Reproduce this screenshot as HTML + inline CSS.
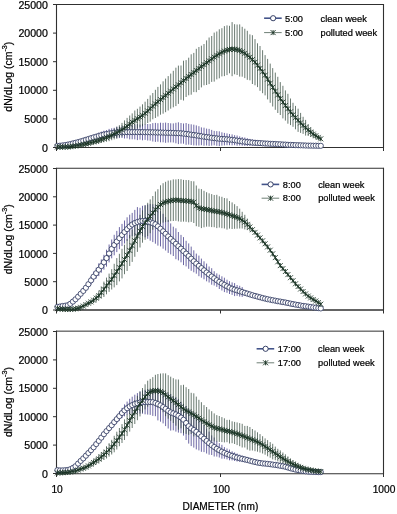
<!DOCTYPE html>
<html lang="en">
<head>
<meta charset="utf-8">
<title>Particle size distributions - clean week vs polluted week</title>
<style>
html,body{margin:0;padding:0;background:#fff;}
body{width:397px;height:514px;overflow:hidden;}
svg{display:block;will-change:transform;opacity:0.999;}
text{font-family:"Liberation Sans",Arial,Helvetica,sans-serif;fill:#000;stroke:#000;stroke-width:0.22px;}
.yt text{font-size:10.6px;text-anchor:end;}
.xt text{font-size:10.2px;text-anchor:middle;}
.xl{font-size:10.1px;text-anchor:middle;}
.yl{font-size:10.5px;text-anchor:middle;}
.lg text{font-size:9.25px;}
</style>
</head>
<body>
<svg width="397" height="514" viewBox="0 0 397 514">
<rect width="397" height="514" fill="#fff"/>
<g>
<path d="M56.5 4V148M383.5 4V148" stroke="#303030" stroke-width="1.1" fill="none"/>
<path d="M56.5 4.5H383.5" stroke="#303030" stroke-width="1" fill="none"/>
<path d="M56.5 147.5H383.5" stroke="#303030" stroke-width="1.15" fill="none"/>
<path d="M57.4 145V146.8M60 144.8V146.6M62.6 144.4V146.4M65.2 144V146.1M67.8 143.5V145.7M70.3 142.8V145.3M72.9 142.1V144.8M75.5 141.4V144.2M78.1 140.5V143.7M80.7 139.6V143.1M83.3 138.7V142.5M85.9 137.7V141.9M88.4 136.7V141.4M91 135.7V140.7M93.6 134.7V140.1M96.2 133.8V139.5M98.8 132.6V139.2M101.3 131.6V138.7M103.9 130.7V138.3M106.5 130.1V137.9M109.1 128.9V138.1M111.7 128.3V137.8M114.2 127.8V137.7M116.8 126.8V138.2M119.4 126.6V138.1M122 126.3V138M124.5 125.7V138.5M127.1 125.7V138.4M129.7 124.7V139.4M132.2 124.8V139.3M134.8 124.7V139.4M137.4 124.1V140.1M140 124.6V139.6M142.5 123.9V140.3M145.1 124.4V139.9M147.7 124V140.5M150.2 124V140.6M152.8 123.1V141.5M155.4 122.9V141.9M157.9 123.2V141.7M160.5 122.7V142.3M163.1 122.9V142.3M165.6 122.6V142.8M168.2 123V142.5M170.7 123.3V142.4M173.3 123.4V142.5M175.9 122.8V143.3M178.4 122.3V144.1M181 123V143.6M183.5 123.5V143.7M186.1 123V144.8M188.7 123.9V144.6M191.2 124.3V145M193.8 124.7V145.4M196.3 125.4V145.5M198.9 126.2V145.5M201.4 127.4V145.2M204 127.7V145.7M206.6 128.6V145.5M209.1 128.9V145.9M211.7 129.9V145.6M214.2 130.9V145.3M216.8 131.1V145.8M219.3 131.3V146.1M221.9 132.3V145.6M224.4 132.9V145.4M227 133.4V145.2M229.5 134V145.2M232.1 134.4V145.3M234.6 135.2V145.2M237.1 135.5V145.7M239.7 136.4V145.5M242.2 137V145.7M244.8 137.5V145.9M247.3 138.2V146M249.9 138.9V145.8M252.4 139.4V145.7M255 139.9V145.7M257.5 140.4V145.5M260 141V145.3M262.6 141.3V145.3M265.1 141.7V145.2M267.6 142.1V145.1M270.2 142.6V144.9M272.7 142.9V144.9M275.3 143.3V144.8M277.8 143.6V144.8M280.3 143.7V144.9M282.9 143.9V145M285.4 144.1V145.1M287.9 144.3V145.2M290.5 144.4V145.3M293 144.6V145.4" stroke="#332d80" stroke-width="0.72" fill="none" opacity="1"/>
<path d="M65.2 146.6V147.5M67.8 146.4V147.5M70.3 146V147.4M72.9 145.5V147.2M75.5 145.1V146.9M78.1 144.5V146.6M80.7 143.8V146.3M83.3 143.1V145.8M85.9 142.2V145.6M88.4 141.4V145.1M91 140.5V144.7M93.6 139.5V144.3M96.2 138.5V143.8M98.8 137.3V143.5M101.3 136.2V142.9M103.9 134.8V142.3M106.5 133.5V141.7M109.1 131.7V141.2M111.7 130.4V140.2M114.2 128.6V139.4M116.8 126.7V138.7M119.4 125.2V137.3M122 122.9V136.5M124.5 120.4V135.6M127.1 117.9V134.5M129.7 115.5V132.6M132.2 113.4V131M134.8 110.5V130.3M137.4 108.8V128.6M140 106.6V127.5M142.5 104.3V126.4M145.1 101.7V124.8M147.7 98.9V123M150.2 95.4V121.7M152.8 93V119.3M155.4 89.8V118M157.9 86.9V116.5M160.5 84.4V114.7M163.1 81.3V113.7M165.6 78.6V112.2M168.2 76.1V110.5M170.7 73.6V108.7M173.3 70.8V107.3M175.9 67.7V106.1M178.4 65.6V103.9M181 65.5V99.8M183.5 60.7V100.5M186.1 60.1V97M188.7 57.7V95.3M191.2 54.3V94.7M193.8 52.9V92.1M196.3 48.8V92.2M198.9 47V90M201.4 45.7V87.4M204 44V85.3M206.6 40.4V85M209.1 37.5V84.1M211.7 36V81.9M214.2 32.6V81.6M216.8 31.5V79.4M219.3 29.3V78.3M221.9 28.2V76.4M224.4 26.1V76.1M227 25.4V75.1M229.5 25.8V73.3M232.1 22.1V76.2M234.6 24.2V74.3M237.1 24.5V75M239.7 24.4V76.6M242.2 26.8V76.7M244.8 28.7V78.1M247.3 30.8V79.8M249.9 34.4V80.3M252.4 35.2V84M255 39.1V85.3M257.5 43.3V87.1M260 46V90.8M262.6 50.2V93.2M265.1 55.1V95.4M267.6 58.9V99.4M270.2 63.6V102.8M272.7 68.1V106.5M275.3 72.6V109.8M277.8 76.8V113M280.3 82.1V115M282.9 85.8V118.4M285.4 90.4V120.6M287.9 93.8V123.7M290.5 98.5V125.1M293 102.8V126.8M295.5 105.9V129.3M298.1 108.7V131.9M300.6 112.9V132.9M303.1 116.8V133.9M305.6 119.9V135.6M308.2 124V136M310.7 127.3V137M313.2 130.1V138M315.8 132.8V138.9M318.3 135.1V139.7M320.8 137.1V140.5" stroke="#2a4034" stroke-width="0.7" fill="none" opacity="1"/>
<polyline points="57.4,145.9 60,145.7 62.6,145.4 65.2,145.1 67.8,144.6 70.3,144.1 72.9,143.4 75.5,142.8 78.1,142.1 80.7,141.4 83.3,140.6 85.9,139.8 88.4,139 91,138.2 93.6,137.4 96.2,136.7 98.8,135.9 101.3,135.2 103.9,134.5 106.5,134 109.1,133.5 111.7,133.1 114.2,132.7 116.8,132.5 119.4,132.3 122,132.2 124.5,132.1 127.1,132.1 129.7,132.1 132.2,132.1 134.8,132.1 137.4,132.1 140,132.1 142.5,132.1 145.1,132.2 147.7,132.2 150.2,132.3 152.8,132.3 155.4,132.4 157.9,132.5 160.5,132.5 163.1,132.6 165.6,132.7 168.2,132.8 170.7,132.8 173.3,132.9 175.9,133.1 178.4,133.2 181,133.3 183.5,133.6 186.1,133.9 188.7,134.3 191.2,134.7 193.8,135 196.3,135.4 198.9,135.8 201.4,136.3 204,136.7 206.6,137.1 209.1,137.4 211.7,137.8 214.2,138.1 216.8,138.4 219.3,138.7 221.9,138.9 224.4,139.1 227,139.3 229.5,139.6 232.1,139.8 234.6,140.2 237.1,140.6 239.7,141 242.2,141.4 244.8,141.7 247.3,142.1 249.9,142.3 252.4,142.6 255,142.8 257.5,143 260,143.1 262.6,143.3 265.1,143.5 267.6,143.6 270.2,143.8 272.7,143.9 275.3,144 277.8,144.2 280.3,144.3 282.9,144.5 285.4,144.6 287.9,144.8 290.5,144.9 293,145 295.5,145.1 298.1,145.2 300.6,145.3 303.1,145.4 305.6,145.5 308.2,145.6 310.7,145.6 313.2,145.7 315.8,145.7 318.3,145.8 320.8,145.8" fill="none" stroke="#242f58" stroke-width="1.1" stroke-linejoin="round"/>
<g fill="#fff" stroke="#242f58" stroke-width="0.8">
<circle cx="57.4" cy="145.9" r="2.6"/>
<circle cx="60" cy="145.7" r="2.6"/>
<circle cx="62.6" cy="145.4" r="2.6"/>
<circle cx="65.2" cy="145.1" r="2.6"/>
<circle cx="67.8" cy="144.6" r="2.6"/>
<circle cx="70.3" cy="144.1" r="2.6"/>
<circle cx="72.9" cy="143.4" r="2.6"/>
<circle cx="75.5" cy="142.8" r="2.6"/>
<circle cx="78.1" cy="142.1" r="2.6"/>
<circle cx="80.7" cy="141.4" r="2.6"/>
<circle cx="83.3" cy="140.6" r="2.6"/>
<circle cx="85.9" cy="139.8" r="2.6"/>
<circle cx="88.4" cy="139" r="2.6"/>
<circle cx="91" cy="138.2" r="2.6"/>
<circle cx="93.6" cy="137.4" r="2.6"/>
<circle cx="96.2" cy="136.7" r="2.6"/>
<circle cx="98.8" cy="135.9" r="2.6"/>
<circle cx="101.3" cy="135.2" r="2.6"/>
<circle cx="103.9" cy="134.5" r="2.6"/>
<circle cx="106.5" cy="134" r="2.6"/>
<circle cx="109.1" cy="133.5" r="2.6"/>
<circle cx="111.7" cy="133.1" r="2.6"/>
<circle cx="114.2" cy="132.7" r="2.6"/>
<circle cx="116.8" cy="132.5" r="2.6"/>
<circle cx="119.4" cy="132.3" r="2.6"/>
<circle cx="122" cy="132.2" r="2.6"/>
<circle cx="124.5" cy="132.1" r="2.6"/>
<circle cx="127.1" cy="132.1" r="2.6"/>
<circle cx="129.7" cy="132.1" r="2.6"/>
<circle cx="132.2" cy="132.1" r="2.6"/>
<circle cx="134.8" cy="132.1" r="2.6"/>
<circle cx="137.4" cy="132.1" r="2.6"/>
<circle cx="140" cy="132.1" r="2.6"/>
<circle cx="142.5" cy="132.1" r="2.6"/>
<circle cx="145.1" cy="132.2" r="2.6"/>
<circle cx="147.7" cy="132.2" r="2.6"/>
<circle cx="150.2" cy="132.3" r="2.6"/>
<circle cx="152.8" cy="132.3" r="2.6"/>
<circle cx="155.4" cy="132.4" r="2.6"/>
<circle cx="157.9" cy="132.5" r="2.6"/>
<circle cx="160.5" cy="132.5" r="2.6"/>
<circle cx="163.1" cy="132.6" r="2.6"/>
<circle cx="165.6" cy="132.7" r="2.6"/>
<circle cx="168.2" cy="132.8" r="2.6"/>
<circle cx="170.7" cy="132.8" r="2.6"/>
<circle cx="173.3" cy="132.9" r="2.6"/>
<circle cx="175.9" cy="133.1" r="2.6"/>
<circle cx="178.4" cy="133.2" r="2.6"/>
<circle cx="181" cy="133.3" r="2.6"/>
<circle cx="183.5" cy="133.6" r="2.6"/>
<circle cx="186.1" cy="133.9" r="2.6"/>
<circle cx="188.7" cy="134.3" r="2.6"/>
<circle cx="191.2" cy="134.7" r="2.6"/>
<circle cx="193.8" cy="135" r="2.6"/>
<circle cx="196.3" cy="135.4" r="2.6"/>
<circle cx="198.9" cy="135.8" r="2.6"/>
<circle cx="201.4" cy="136.3" r="2.6"/>
<circle cx="204" cy="136.7" r="2.6"/>
<circle cx="206.6" cy="137.1" r="2.6"/>
<circle cx="209.1" cy="137.4" r="2.6"/>
<circle cx="211.7" cy="137.8" r="2.6"/>
<circle cx="214.2" cy="138.1" r="2.6"/>
<circle cx="216.8" cy="138.4" r="2.6"/>
<circle cx="219.3" cy="138.7" r="2.6"/>
<circle cx="221.9" cy="138.9" r="2.6"/>
<circle cx="224.4" cy="139.1" r="2.6"/>
<circle cx="227" cy="139.3" r="2.6"/>
<circle cx="229.5" cy="139.6" r="2.6"/>
<circle cx="232.1" cy="139.8" r="2.6"/>
<circle cx="234.6" cy="140.2" r="2.6"/>
<circle cx="237.1" cy="140.6" r="2.6"/>
<circle cx="239.7" cy="141" r="2.6"/>
<circle cx="242.2" cy="141.4" r="2.6"/>
<circle cx="244.8" cy="141.7" r="2.6"/>
<circle cx="247.3" cy="142.1" r="2.6"/>
<circle cx="249.9" cy="142.3" r="2.6"/>
<circle cx="252.4" cy="142.6" r="2.6"/>
<circle cx="255" cy="142.8" r="2.6"/>
<circle cx="257.5" cy="143" r="2.6"/>
<circle cx="260" cy="143.1" r="2.6"/>
<circle cx="262.6" cy="143.3" r="2.6"/>
<circle cx="265.1" cy="143.5" r="2.6"/>
<circle cx="267.6" cy="143.6" r="2.6"/>
<circle cx="270.2" cy="143.8" r="2.6"/>
<circle cx="272.7" cy="143.9" r="2.6"/>
<circle cx="275.3" cy="144" r="2.6"/>
<circle cx="277.8" cy="144.2" r="2.6"/>
<circle cx="280.3" cy="144.3" r="2.6"/>
<circle cx="282.9" cy="144.5" r="2.6"/>
<circle cx="285.4" cy="144.6" r="2.6"/>
<circle cx="287.9" cy="144.8" r="2.6"/>
<circle cx="290.5" cy="144.9" r="2.6"/>
<circle cx="293" cy="145" r="2.6"/>
<circle cx="295.5" cy="145.1" r="2.6"/>
<circle cx="298.1" cy="145.2" r="2.6"/>
<circle cx="300.6" cy="145.3" r="2.6"/>
<circle cx="303.1" cy="145.4" r="2.6"/>
<circle cx="305.6" cy="145.5" r="2.6"/>
<circle cx="308.2" cy="145.6" r="2.6"/>
<circle cx="310.7" cy="145.6" r="2.6"/>
<circle cx="313.2" cy="145.7" r="2.6"/>
<circle cx="315.8" cy="145.7" r="2.6"/>
<circle cx="318.3" cy="145.8" r="2.6"/>
<circle cx="320.8" cy="145.8" r="2.6"/>
</g>
<polyline points="57.4,147 60,147 62.6,147 65.2,147 67.8,146.9 70.3,146.7 72.9,146.3 75.5,146 78.1,145.6 80.7,145 83.3,144.5 85.9,143.9 88.4,143.3 91,142.6 93.6,141.9 96.2,141.2 98.8,140.4 101.3,139.5 103.9,138.6 106.5,137.6 109.1,136.5 111.7,135.3 114.2,134 116.8,132.7 119.4,131.2 122,129.7 124.5,128 127.1,126.2 129.7,124.1 132.2,122.2 134.8,120.4 137.4,118.7 140,117.1 142.5,115.3 145.1,113.3 147.7,111 150.2,108.6 152.8,106.2 155.4,103.9 157.9,101.7 160.5,99.6 163.1,97.5 165.6,95.4 168.2,93.3 170.7,91.2 173.3,89 175.9,86.9 178.4,84.8 181,82.7 183.5,80.6 186.1,78.5 188.7,76.5 191.2,74.5 193.8,72.5 196.3,70.5 198.9,68.5 201.4,66.5 204,64.6 206.6,62.7 209.1,60.8 211.7,58.9 214.2,57.1 216.8,55.4 219.3,53.8 221.9,52.3 224.4,51.1 227,50.2 229.5,49.5 232.1,49.1 234.6,49.3 237.1,49.7 239.7,50.5 242.2,51.7 244.8,53.4 247.3,55.3 249.9,57.3 252.4,59.6 255,62.2 257.5,65.2 260,68.4 262.6,71.7 265.1,75.2 267.6,79.1 270.2,83.2 272.7,87.3 275.3,91.2 277.8,94.9 280.3,98.5 282.9,102.1 285.4,105.5 287.9,108.7 290.5,111.8 293,114.8 295.5,117.6 298.1,120.3 300.6,122.9 303.1,125.4 305.6,127.7 308.2,130 310.7,132.1 313.2,134.1 315.8,135.8 318.3,137.4 320.8,138.8" fill="none" stroke="#1b3526" stroke-width="1.05" stroke-linejoin="round"/>
<path d="M54.9 144.5l5 5M54.9 149.5l5 -5M57.4 144.5v5M57.5 144.5l5 5M57.5 149.5l5 -5M60 144.5v5M60.1 144.5l5 5M60.1 149.5l5 -5M62.6 144.5v5M62.7 144.5l5 5M62.7 149.5l5 -5M65.2 144.5v5M65.3 144.4l5 5M65.3 149.4l5 -5M67.8 144.4v5M67.8 144.2l5 5M67.8 149.2l5 -5M70.3 144.2v5M70.4 143.8l5 5M70.4 148.8l5 -5M72.9 143.8v5M73 143.5l5 5M73 148.5l5 -5M75.5 143.5v5M75.6 143.1l5 5M75.6 148.1l5 -5M78.1 143.1v5M78.2 142.5l5 5M78.2 147.5l5 -5M80.7 142.5v5M80.8 142l5 5M80.8 147l5 -5M83.3 142v5M83.4 141.4l5 5M83.4 146.4l5 -5M85.9 141.4v5M85.9 140.8l5 5M85.9 145.8l5 -5M88.4 140.8v5M88.5 140.1l5 5M88.5 145.1l5 -5M91 140.1v5M91.1 139.4l5 5M91.1 144.4l5 -5M93.6 139.4v5M93.7 138.7l5 5M93.7 143.7l5 -5M96.2 138.7v5M96.3 137.9l5 5M96.3 142.9l5 -5M98.8 137.9v5M98.8 137l5 5M98.8 142l5 -5M101.3 137v5M101.4 136.1l5 5M101.4 141.1l5 -5M103.9 136.1v5M104 135.1l5 5M104 140.1l5 -5M106.5 135.1v5M106.6 134l5 5M106.6 139l5 -5M109.1 134v5M109.2 132.8l5 5M109.2 137.8l5 -5M111.7 132.8v5M111.7 131.5l5 5M111.7 136.5l5 -5M114.2 131.5v5M114.3 130.2l5 5M114.3 135.2l5 -5M116.8 130.2v5M116.9 128.7l5 5M116.9 133.7l5 -5M119.4 128.7v5M119.5 127.2l5 5M119.5 132.2l5 -5M122 127.2v5M122 125.5l5 5M122 130.5l5 -5M124.5 125.5v5M124.6 123.7l5 5M124.6 128.7l5 -5M127.1 123.7v5M127.2 121.6l5 5M127.2 126.6l5 -5M129.7 121.6v5M129.7 119.7l5 5M129.7 124.7l5 -5M132.2 119.7v5M132.3 117.9l5 5M132.3 122.9l5 -5M134.8 117.9v5M134.9 116.2l5 5M134.9 121.2l5 -5M137.4 116.2v5M137.5 114.6l5 5M137.5 119.6l5 -5M140 114.6v5M140 112.8l5 5M140 117.8l5 -5M142.5 112.8v5M142.6 110.8l5 5M142.6 115.8l5 -5M145.1 110.8v5M145.2 108.5l5 5M145.2 113.5l5 -5M147.7 108.5v5M147.7 106.1l5 5M147.7 111.1l5 -5M150.2 106.1v5M150.3 103.7l5 5M150.3 108.7l5 -5M152.8 103.7v5M152.9 101.4l5 5M152.9 106.4l5 -5M155.4 101.4v5M155.4 99.2l5 5M155.4 104.2l5 -5M157.9 99.2v5M158 97.1l5 5M158 102.1l5 -5M160.5 97.1v5M160.6 95l5 5M160.6 100l5 -5M163.1 95v5M163.1 92.9l5 5M163.1 97.9l5 -5M165.6 92.9v5M165.7 90.8l5 5M165.7 95.8l5 -5M168.2 90.8v5M168.2 88.7l5 5M168.2 93.7l5 -5M170.7 88.7v5M170.8 86.5l5 5M170.8 91.5l5 -5M173.3 86.5v5M173.4 84.4l5 5M173.4 89.4l5 -5M175.9 84.4v5M175.9 82.3l5 5M175.9 87.3l5 -5M178.4 82.3v5M178.5 80.2l5 5M178.5 85.2l5 -5M181 80.2v5M181 78.1l5 5M181 83.1l5 -5M183.5 78.1v5M183.6 76l5 5M183.6 81l5 -5M186.1 76v5M186.2 74l5 5M186.2 79l5 -5M188.7 74v5M188.7 72l5 5M188.7 77l5 -5M191.2 72v5M191.3 70l5 5M191.3 75l5 -5M193.8 70v5M193.8 68l5 5M193.8 73l5 -5M196.3 68v5M196.4 66l5 5M196.4 71l5 -5M198.9 66v5M198.9 64l5 5M198.9 69l5 -5M201.4 64v5M201.5 62.1l5 5M201.5 67.1l5 -5M204 62.1v5M204.1 60.2l5 5M204.1 65.2l5 -5M206.6 60.2v5M206.6 58.3l5 5M206.6 63.3l5 -5M209.1 58.3v5M209.2 56.4l5 5M209.2 61.4l5 -5M211.7 56.4v5M211.7 54.6l5 5M211.7 59.6l5 -5M214.2 54.6v5M214.3 52.9l5 5M214.3 57.9l5 -5M216.8 52.9v5M216.8 51.3l5 5M216.8 56.3l5 -5M219.3 51.3v5M219.4 49.8l5 5M219.4 54.8l5 -5M221.9 49.8v5M221.9 48.6l5 5M221.9 53.6l5 -5M224.4 48.6v5M224.5 47.7l5 5M224.5 52.7l5 -5M227 47.7v5M227 47l5 5M227 52l5 -5M229.5 47v5M229.6 46.6l5 5M229.6 51.6l5 -5M232.1 46.6v5M232.1 46.8l5 5M232.1 51.8l5 -5M234.6 46.8v5M234.6 47.2l5 5M234.6 52.2l5 -5M237.1 47.2v5M237.2 48l5 5M237.2 53l5 -5M239.7 48v5M239.7 49.2l5 5M239.7 54.2l5 -5M242.2 49.2v5M242.3 50.9l5 5M242.3 55.9l5 -5M244.8 50.9v5M244.8 52.8l5 5M244.8 57.8l5 -5M247.3 52.8v5M247.4 54.8l5 5M247.4 59.8l5 -5M249.9 54.8v5M249.9 57.1l5 5M249.9 62.1l5 -5M252.4 57.1v5M252.5 59.7l5 5M252.5 64.7l5 -5M255 59.7v5M255 62.7l5 5M255 67.7l5 -5M257.5 62.7v5M257.5 65.9l5 5M257.5 70.9l5 -5M260 65.9v5M260.1 69.2l5 5M260.1 74.2l5 -5M262.6 69.2v5M262.6 72.7l5 5M262.6 77.7l5 -5M265.1 72.7v5M265.1 76.6l5 5M265.1 81.6l5 -5M267.6 76.6v5M267.7 80.7l5 5M267.7 85.7l5 -5M270.2 80.7v5M270.2 84.8l5 5M270.2 89.8l5 -5M272.7 84.8v5M272.8 88.7l5 5M272.8 93.7l5 -5M275.3 88.7v5M275.3 92.4l5 5M275.3 97.4l5 -5M277.8 92.4v5M277.8 96l5 5M277.8 101l5 -5M280.3 96v5M280.4 99.6l5 5M280.4 104.6l5 -5M282.9 99.6v5M282.9 103l5 5M282.9 108l5 -5M285.4 103v5M285.4 106.2l5 5M285.4 111.2l5 -5M287.9 106.2v5M288 109.3l5 5M288 114.3l5 -5M290.5 109.3v5M290.5 112.3l5 5M290.5 117.3l5 -5M293 112.3v5M293 115.1l5 5M293 120.1l5 -5M295.5 115.1v5M295.6 117.8l5 5M295.6 122.8l5 -5M298.1 117.8v5M298.1 120.4l5 5M298.1 125.4l5 -5M300.6 120.4v5M300.6 122.9l5 5M300.6 127.9l5 -5M303.1 122.9v5M303.1 125.2l5 5M303.1 130.2l5 -5M305.6 125.2v5M305.7 127.5l5 5M305.7 132.5l5 -5M308.2 127.5v5M308.2 129.6l5 5M308.2 134.6l5 -5M310.7 129.6v5M310.7 131.6l5 5M310.7 136.6l5 -5M313.2 131.6v5M313.3 133.3l5 5M313.3 138.3l5 -5M315.8 133.3v5M315.8 134.9l5 5M315.8 139.9l5 -5M318.3 134.9v5M318.3 136.3l5 5M318.3 141.3l5 -5M320.8 136.3v5" stroke="#1b3526" stroke-width="0.85" fill="none"/>
<path d="M53 147.5h3.5M53 118.9h3.5M53 90.3h3.5M53 61.7h3.5M53 33.1h3.5M53 4.5h3.5M56.5 147.5v3.5M220.5 147.5v3.5M383.5 147.5v3.5" stroke="#303030" stroke-width="1" fill="none"/>
<g class="yt">
<text x="47.9" y="151.6">0</text>
<text x="47.9" y="123">5000</text>
<text x="47.9" y="94.4">10000</text>
<text x="47.9" y="65.8">15000</text>
<text x="47.9" y="37.2">20000</text>
<text x="47.9" y="8.6">25000</text>
</g>
<text class="yl" transform="translate(12.1 76.7) rotate(-90)">dN/dLog (cm<tspan dy="-5.2" font-size="7.2">-3</tspan><tspan dy="5.2">)</tspan></text>
<path d="M264.1 18.2h17.6" stroke="#43548a" stroke-width="1.6"/>
<circle cx="273.1" cy="18.2" r="2.6" fill="#fff" stroke="#242f58" stroke-width="0.9"/>
<path d="M264.1 32.6h17.6" stroke="#1b3526" stroke-width="0.9" opacity="0.7"/>
<path d="M270.6 30.1l5 5M270.6 35.1l5 -5M273.1 30.1v5" stroke="#1b3526" stroke-width="0.95" fill="none"/>
<g class="lg">
<text x="285" y="21.6">5:00</text><text x="320.5" y="21.6">clean week</text>
<text x="285" y="35.8">5:00</text><text x="320.5" y="35.8">polluted week</text>
</g>
</g>
<g>
<path d="M56.5 167.8V310.5M383.5 167.8V310.5" stroke="#303030" stroke-width="1.1" fill="none"/>
<path d="M56.5 168.25H383.5" stroke="#303030" stroke-width="1" fill="none"/>
<path d="M56.5 310.0H383.5" stroke="#303030" stroke-width="1.5" fill="none"/>
<path d="M57.4 306.3V307.4M60 305.9V307M62.6 305.4V306.6M65.2 305V306.4M67.8 304.4V305.9M70.3 302.9V304.6M72.9 300.6V302.5M75.5 298.2V300.4M78.1 295.4V297.9M80.7 292.4V295.3M83.3 289V292.8M85.9 285.1V290.4M88.4 281V287.5M91 276.3V284.4M93.6 271.7V281.6M96.2 267.7V278.6M98.8 263.3V276.1M101.3 259.4V272.7M103.9 254.8V269.7M106.5 249.7V266.6M109.1 244.5V262.4M111.7 239.5V258.3M114.2 234.8V255.3M116.8 230.9V252.1M119.4 227.1V249.2M122 223.9V246.1M124.5 220.5V243.5M127.1 217.3V240.9M129.7 214.7V238.3M132.2 212.9V236.2M134.8 209.9V236M137.4 207.1V236.9M140 207.8V234.9M142.5 205.8V236.1M145.1 205V237.3M147.7 204.5V238.8M150.2 203.9V240.7M152.8 204.2V242.1M155.4 204.9V243.7M157.9 207V245.6M160.5 211.1V246.4M163.1 213.8V248.7M165.6 217.1V250.5M168.2 219.9V252.9M170.7 223.4V254.4M173.3 226.7V256M175.9 228.3V259.2M178.4 232V260.4M181 234.9V262.3M183.5 237.1V265.1M186.1 240.8V266.4M188.7 243.4V268.8M191.2 246.6V270.8M193.8 250.3V272.3M196.3 253.6V273.7M198.9 255.6V276.2M201.4 258.6V277.7M204 261.3V279.3M206.6 263.6V281.3M209.1 266.5V282.5M211.7 268.2V284.7M214.2 271.2V285.5M216.8 273.4V286.9M219.3 274.7V289M221.9 276.3V290.5M224.4 277.7V292.1M227 279.7V292.8M229.5 281.2V294M232.1 282.4V294.9M234.6 283.1V296.1M237.1 285V295.9M239.7 285.8V296.6M242.2 287.1V296.9M244.8 290V295.6" stroke="#332d80" stroke-width="0.72" fill="none" opacity="1"/>
<path d="M83.3 305.6V306.6M85.9 303.9V305.2M88.4 302.1V304.3M91 299.9V303.9M93.6 297.5V303M96.2 294.4V301.8M98.8 291V300.1M101.3 286.6V298.6M103.9 281.6V297M106.5 277.6V294.3M109.1 273.6V291.9M111.7 269.2V289.5M114.2 263.8V287.4M116.8 258.1V285.1M119.4 253.8V281.4M122 248.8V278.4M124.5 244.7V274.2M127.1 239.1V271M129.7 234.9V266M132.2 229.5V261.9M134.8 224.9V256.8M137.4 220.1V251.9M140 214.8V247.5M142.5 210.4V242.7M145.1 205.6V239.8M147.7 202.8V236.1M150.2 199.4V233.2M152.8 196V229.8M155.4 191.5V228M157.9 189.2V224.8M160.5 185.3V223.8M163.1 183.2V222.6M165.6 181.8V222.1M168.2 180.6V221.9M170.7 180.3V221.2M173.3 179.4V221M175.9 179.4V220.8M178.4 179.1V221.4M181 179.2V221.8M183.5 179.9V221.6M186.1 180V221.8M188.7 180.1V222.3M191.2 181.1V221.9M193.8 181.3V223M196.3 185.5V226.2M198.9 188.7V226.8M201.4 189.1V228.1M204 190.8V227.3M206.6 192.2V226.7M209.1 193.3V226.7M211.7 194.1V227.1M214.2 195V227.2M216.8 194.8V228.1M219.3 196.3V227.5M221.9 196.8V228.2M224.4 198V228.5M227 198.4V229.6M229.5 201V228.6M232.1 202.4V229M234.6 204.2V228.8M237.1 206.1V228.7M239.7 208.7V228.5M242.2 211.8V228.5M244.8 214.8V229.4M247.3 218.6V230.1M249.9 222.6V231.4" stroke="#2a4034" stroke-width="0.7" fill="none" opacity="1"/>
<polyline points="57.4,306.9 60,306.5 62.6,306 65.2,305.7 67.8,305.2 70.3,303.8 72.9,301.6 75.5,299.3 78.1,296.7 80.7,293.8 83.3,290.9 85.9,287.8 88.4,284.2 91,280.4 93.6,276.6 96.2,273.2 98.8,269.7 101.3,266.1 103.9,262.3 106.5,258.1 109.1,253.5 111.7,248.9 114.2,245 116.8,241.5 119.4,238.2 122,235 124.5,232 127.1,229.1 129.7,226.5 132.2,224.5 134.8,223 137.4,222 140,221.3 142.5,221 145.1,221.1 147.7,221.7 150.2,222.3 152.8,223.2 155.4,224.3 157.9,226.3 160.5,228.7 163.1,231.3 165.6,233.8 168.2,236.4 170.7,238.9 173.3,241.3 175.9,243.8 178.4,246.2 181,248.6 183.5,251.1 186.1,253.6 188.7,256.1 191.2,258.7 193.8,261.3 196.3,263.6 198.9,265.9 201.4,268.1 204,270.3 206.6,272.5 209.1,274.5 211.7,276.5 214.2,278.3 216.8,280.2 219.3,281.9 221.9,283.4 224.4,284.9 227,286.3 229.5,287.6 232.1,288.7 234.6,289.6 237.1,290.4 239.7,291.2 242.2,292 244.8,292.8 247.3,293.6 249.9,294.4 252.4,295.2 255,295.9 257.5,296.6 260,297.3 262.6,298 265.1,298.6 267.6,299.2 270.2,299.7 272.7,300.2 275.3,300.7 277.8,301.2 280.3,301.6 282.9,302.1 285.4,302.5 287.9,303 290.5,303.6 293,304.1 295.5,304.6 298.1,305 300.6,305.5 303.1,305.9 305.6,306.2 308.2,306.6 310.7,307 313.2,307.4 315.8,307.7 318.3,308.1 320.8,308.4" fill="none" stroke="#242f58" stroke-width="1.1" stroke-linejoin="round"/>
<g fill="#fff" stroke="#242f58" stroke-width="0.8">
<circle cx="57.4" cy="306.9" r="2.6"/>
<circle cx="60" cy="306.5" r="2.6"/>
<circle cx="62.6" cy="306" r="2.6"/>
<circle cx="65.2" cy="305.7" r="2.6"/>
<circle cx="67.8" cy="305.2" r="2.6"/>
<circle cx="70.3" cy="303.8" r="2.6"/>
<circle cx="72.9" cy="301.6" r="2.6"/>
<circle cx="75.5" cy="299.3" r="2.6"/>
<circle cx="78.1" cy="296.7" r="2.6"/>
<circle cx="80.7" cy="293.8" r="2.6"/>
<circle cx="83.3" cy="290.9" r="2.6"/>
<circle cx="85.9" cy="287.8" r="2.6"/>
<circle cx="88.4" cy="284.2" r="2.6"/>
<circle cx="91" cy="280.4" r="2.6"/>
<circle cx="93.6" cy="276.6" r="2.6"/>
<circle cx="96.2" cy="273.2" r="2.6"/>
<circle cx="98.8" cy="269.7" r="2.6"/>
<circle cx="101.3" cy="266.1" r="2.6"/>
<circle cx="103.9" cy="262.3" r="2.6"/>
<circle cx="106.5" cy="258.1" r="2.6"/>
<circle cx="109.1" cy="253.5" r="2.6"/>
<circle cx="111.7" cy="248.9" r="2.6"/>
<circle cx="114.2" cy="245" r="2.6"/>
<circle cx="116.8" cy="241.5" r="2.6"/>
<circle cx="119.4" cy="238.2" r="2.6"/>
<circle cx="122" cy="235" r="2.6"/>
<circle cx="124.5" cy="232" r="2.6"/>
<circle cx="127.1" cy="229.1" r="2.6"/>
<circle cx="129.7" cy="226.5" r="2.6"/>
<circle cx="132.2" cy="224.5" r="2.6"/>
<circle cx="134.8" cy="223" r="2.6"/>
<circle cx="137.4" cy="222" r="2.6"/>
<circle cx="140" cy="221.3" r="2.6"/>
<circle cx="142.5" cy="221" r="2.6"/>
<circle cx="145.1" cy="221.1" r="2.6"/>
<circle cx="147.7" cy="221.7" r="2.6"/>
<circle cx="150.2" cy="222.3" r="2.6"/>
<circle cx="152.8" cy="223.2" r="2.6"/>
<circle cx="155.4" cy="224.3" r="2.6"/>
<circle cx="157.9" cy="226.3" r="2.6"/>
<circle cx="160.5" cy="228.7" r="2.6"/>
<circle cx="163.1" cy="231.3" r="2.6"/>
<circle cx="165.6" cy="233.8" r="2.6"/>
<circle cx="168.2" cy="236.4" r="2.6"/>
<circle cx="170.7" cy="238.9" r="2.6"/>
<circle cx="173.3" cy="241.3" r="2.6"/>
<circle cx="175.9" cy="243.8" r="2.6"/>
<circle cx="178.4" cy="246.2" r="2.6"/>
<circle cx="181" cy="248.6" r="2.6"/>
<circle cx="183.5" cy="251.1" r="2.6"/>
<circle cx="186.1" cy="253.6" r="2.6"/>
<circle cx="188.7" cy="256.1" r="2.6"/>
<circle cx="191.2" cy="258.7" r="2.6"/>
<circle cx="193.8" cy="261.3" r="2.6"/>
<circle cx="196.3" cy="263.6" r="2.6"/>
<circle cx="198.9" cy="265.9" r="2.6"/>
<circle cx="201.4" cy="268.1" r="2.6"/>
<circle cx="204" cy="270.3" r="2.6"/>
<circle cx="206.6" cy="272.5" r="2.6"/>
<circle cx="209.1" cy="274.5" r="2.6"/>
<circle cx="211.7" cy="276.5" r="2.6"/>
<circle cx="214.2" cy="278.3" r="2.6"/>
<circle cx="216.8" cy="280.2" r="2.6"/>
<circle cx="219.3" cy="281.9" r="2.6"/>
<circle cx="221.9" cy="283.4" r="2.6"/>
<circle cx="224.4" cy="284.9" r="2.6"/>
<circle cx="227" cy="286.3" r="2.6"/>
<circle cx="229.5" cy="287.6" r="2.6"/>
<circle cx="232.1" cy="288.7" r="2.6"/>
<circle cx="234.6" cy="289.6" r="2.6"/>
<circle cx="237.1" cy="290.4" r="2.6"/>
<circle cx="239.7" cy="291.2" r="2.6"/>
<circle cx="242.2" cy="292" r="2.6"/>
<circle cx="244.8" cy="292.8" r="2.6"/>
<circle cx="247.3" cy="293.6" r="2.6"/>
<circle cx="249.9" cy="294.4" r="2.6"/>
<circle cx="252.4" cy="295.2" r="2.6"/>
<circle cx="255" cy="295.9" r="2.6"/>
<circle cx="257.5" cy="296.6" r="2.6"/>
<circle cx="260" cy="297.3" r="2.6"/>
<circle cx="262.6" cy="298" r="2.6"/>
<circle cx="265.1" cy="298.6" r="2.6"/>
<circle cx="267.6" cy="299.2" r="2.6"/>
<circle cx="270.2" cy="299.7" r="2.6"/>
<circle cx="272.7" cy="300.2" r="2.6"/>
<circle cx="275.3" cy="300.7" r="2.6"/>
<circle cx="277.8" cy="301.2" r="2.6"/>
<circle cx="280.3" cy="301.6" r="2.6"/>
<circle cx="282.9" cy="302.1" r="2.6"/>
<circle cx="285.4" cy="302.5" r="2.6"/>
<circle cx="287.9" cy="303" r="2.6"/>
<circle cx="290.5" cy="303.6" r="2.6"/>
<circle cx="293" cy="304.1" r="2.6"/>
<circle cx="295.5" cy="304.6" r="2.6"/>
<circle cx="298.1" cy="305" r="2.6"/>
<circle cx="300.6" cy="305.5" r="2.6"/>
<circle cx="303.1" cy="305.9" r="2.6"/>
<circle cx="305.6" cy="306.2" r="2.6"/>
<circle cx="308.2" cy="306.6" r="2.6"/>
<circle cx="310.7" cy="307" r="2.6"/>
<circle cx="313.2" cy="307.4" r="2.6"/>
<circle cx="315.8" cy="307.7" r="2.6"/>
<circle cx="318.3" cy="308.1" r="2.6"/>
<circle cx="320.8" cy="308.4" r="2.6"/>
</g>
<polyline points="57.4,308.6 60,308.9 62.6,309.1 65.2,309.2 67.8,309.3 70.3,309.2 72.9,309.1 75.5,308.8 78.1,308.2 80.7,307.3 83.3,306.1 85.9,304.6 88.4,303.2 91,301.9 93.6,300.2 96.2,298.1 98.8,295.6 101.3,292.6 103.9,289.3 106.5,285.9 109.1,282.7 111.7,279.4 114.2,275.6 116.8,271.6 119.4,267.6 122,263.6 124.5,259.5 127.1,255.1 129.7,250.4 132.2,245.7 134.8,240.8 137.4,236 140,231.1 142.5,226.5 145.1,222.7 147.7,219.5 150.2,216.3 152.8,212.9 155.4,209.7 157.9,207 160.5,204.5 163.1,202.9 165.6,202 168.2,201.3 170.7,200.7 173.3,200.2 175.9,200.1 178.4,200.3 181,200.5 183.5,200.7 186.1,200.9 188.7,201.2 191.2,201.5 193.8,202.2 196.3,205.8 198.9,207.8 201.4,208.6 204,209.1 206.6,209.5 209.1,210 211.7,210.6 214.2,211.1 216.8,211.5 219.3,211.9 221.9,212.5 224.4,213.2 227,214 229.5,214.8 232.1,215.7 234.6,216.5 237.1,217.4 239.7,218.6 242.2,220.2 244.8,222.1 247.3,224.4 249.9,227 252.4,229.7 255,232.4 257.5,235.1 260,237.9 262.6,240.8 265.1,243.8 267.6,246.9 270.2,250.2 272.7,253.8 275.3,257.6 277.8,261.8 280.3,265.6 282.9,268.6 285.4,271.5 287.9,274.6 290.5,277.7 293,280.7 295.5,283.8 298.1,286.5 300.6,289 303.1,291.5 305.6,293.9 308.2,296.1 310.7,297.9 313.2,299.5 315.8,301 318.3,302.5 320.8,304.2" fill="none" stroke="#1b3526" stroke-width="1.05" stroke-linejoin="round"/>
<path d="M54.9 306.1l5 5M54.9 311.1l5 -5M57.4 306.1v5M57.5 306.4l5 5M57.5 311.4l5 -5M60 306.4v5M60.1 306.6l5 5M60.1 311.6l5 -5M62.6 306.6v5M62.7 306.7l5 5M62.7 311.7l5 -5M65.2 306.7v5M65.3 306.8l5 5M65.3 311.8l5 -5M67.8 306.8v5M67.8 306.7l5 5M67.8 311.7l5 -5M70.3 306.7v5M70.4 306.6l5 5M70.4 311.6l5 -5M72.9 306.6v5M73 306.3l5 5M73 311.3l5 -5M75.5 306.3v5M75.6 305.7l5 5M75.6 310.7l5 -5M78.1 305.7v5M78.2 304.8l5 5M78.2 309.8l5 -5M80.7 304.8v5M80.8 303.6l5 5M80.8 308.6l5 -5M83.3 303.6v5M83.4 302.1l5 5M83.4 307.1l5 -5M85.9 302.1v5M85.9 300.7l5 5M85.9 305.7l5 -5M88.4 300.7v5M88.5 299.4l5 5M88.5 304.4l5 -5M91 299.4v5M91.1 297.7l5 5M91.1 302.7l5 -5M93.6 297.7v5M93.7 295.6l5 5M93.7 300.6l5 -5M96.2 295.6v5M96.3 293.1l5 5M96.3 298.1l5 -5M98.8 293.1v5M98.8 290.1l5 5M98.8 295.1l5 -5M101.3 290.1v5M101.4 286.8l5 5M101.4 291.8l5 -5M103.9 286.8v5M104 283.4l5 5M104 288.4l5 -5M106.5 283.4v5M106.6 280.2l5 5M106.6 285.2l5 -5M109.1 280.2v5M109.2 276.9l5 5M109.2 281.9l5 -5M111.7 276.9v5M111.7 273.1l5 5M111.7 278.1l5 -5M114.2 273.1v5M114.3 269.1l5 5M114.3 274.1l5 -5M116.8 269.1v5M116.9 265.1l5 5M116.9 270.1l5 -5M119.4 265.1v5M119.5 261.1l5 5M119.5 266.1l5 -5M122 261.1v5M122 257l5 5M122 262l5 -5M124.5 257v5M124.6 252.6l5 5M124.6 257.6l5 -5M127.1 252.6v5M127.2 247.9l5 5M127.2 252.9l5 -5M129.7 247.9v5M129.7 243.2l5 5M129.7 248.2l5 -5M132.2 243.2v5M132.3 238.3l5 5M132.3 243.3l5 -5M134.8 238.3v5M134.9 233.5l5 5M134.9 238.5l5 -5M137.4 233.5v5M137.5 228.6l5 5M137.5 233.6l5 -5M140 228.6v5M140 224l5 5M140 229l5 -5M142.5 224v5M142.6 220.2l5 5M142.6 225.2l5 -5M145.1 220.2v5M145.2 217l5 5M145.2 222l5 -5M147.7 217v5M147.7 213.8l5 5M147.7 218.8l5 -5M150.2 213.8v5M150.3 210.4l5 5M150.3 215.4l5 -5M152.8 210.4v5M152.9 207.2l5 5M152.9 212.2l5 -5M155.4 207.2v5M155.4 204.5l5 5M155.4 209.5l5 -5M157.9 204.5v5M158 202l5 5M158 207l5 -5M160.5 202v5M160.6 200.4l5 5M160.6 205.4l5 -5M163.1 200.4v5M163.1 199.5l5 5M163.1 204.5l5 -5M165.6 199.5v5M165.7 198.8l5 5M165.7 203.8l5 -5M168.2 198.8v5M168.2 198.2l5 5M168.2 203.2l5 -5M170.7 198.2v5M170.8 197.7l5 5M170.8 202.7l5 -5M173.3 197.7v5M173.4 197.6l5 5M173.4 202.6l5 -5M175.9 197.6v5M175.9 197.8l5 5M175.9 202.8l5 -5M178.4 197.8v5M178.5 198l5 5M178.5 203l5 -5M181 198v5M181 198.2l5 5M181 203.2l5 -5M183.5 198.2v5M183.6 198.4l5 5M183.6 203.4l5 -5M186.1 198.4v5M186.2 198.7l5 5M186.2 203.7l5 -5M188.7 198.7v5M188.7 199l5 5M188.7 204l5 -5M191.2 199v5M191.3 199.7l5 5M191.3 204.7l5 -5M193.8 199.7v5M193.8 203.3l5 5M193.8 208.3l5 -5M196.3 203.3v5M196.4 205.3l5 5M196.4 210.3l5 -5M198.9 205.3v5M198.9 206.1l5 5M198.9 211.1l5 -5M201.4 206.1v5M201.5 206.6l5 5M201.5 211.6l5 -5M204 206.6v5M204.1 207l5 5M204.1 212l5 -5M206.6 207v5M206.6 207.5l5 5M206.6 212.5l5 -5M209.1 207.5v5M209.2 208.1l5 5M209.2 213.1l5 -5M211.7 208.1v5M211.7 208.6l5 5M211.7 213.6l5 -5M214.2 208.6v5M214.3 209l5 5M214.3 214l5 -5M216.8 209v5M216.8 209.4l5 5M216.8 214.4l5 -5M219.3 209.4v5M219.4 210l5 5M219.4 215l5 -5M221.9 210v5M221.9 210.7l5 5M221.9 215.7l5 -5M224.4 210.7v5M224.5 211.5l5 5M224.5 216.5l5 -5M227 211.5v5M227 212.3l5 5M227 217.3l5 -5M229.5 212.3v5M229.6 213.2l5 5M229.6 218.2l5 -5M232.1 213.2v5M232.1 214l5 5M232.1 219l5 -5M234.6 214v5M234.6 214.9l5 5M234.6 219.9l5 -5M237.1 214.9v5M237.2 216.1l5 5M237.2 221.1l5 -5M239.7 216.1v5M239.7 217.7l5 5M239.7 222.7l5 -5M242.2 217.7v5M242.3 219.6l5 5M242.3 224.6l5 -5M244.8 219.6v5M244.8 221.9l5 5M244.8 226.9l5 -5M247.3 221.9v5M247.4 224.5l5 5M247.4 229.5l5 -5M249.9 224.5v5M249.9 227.2l5 5M249.9 232.2l5 -5M252.4 227.2v5M252.5 229.9l5 5M252.5 234.9l5 -5M255 229.9v5M255 232.6l5 5M255 237.6l5 -5M257.5 232.6v5M257.5 235.4l5 5M257.5 240.4l5 -5M260 235.4v5M260.1 238.3l5 5M260.1 243.3l5 -5M262.6 238.3v5M262.6 241.3l5 5M262.6 246.3l5 -5M265.1 241.3v5M265.1 244.4l5 5M265.1 249.4l5 -5M267.6 244.4v5M267.7 247.7l5 5M267.7 252.7l5 -5M270.2 247.7v5M270.2 251.3l5 5M270.2 256.3l5 -5M272.7 251.3v5M272.8 255.1l5 5M272.8 260.1l5 -5M275.3 255.1v5M275.3 259.3l5 5M275.3 264.3l5 -5M277.8 259.3v5M277.8 263.1l5 5M277.8 268.1l5 -5M280.3 263.1v5M280.4 266.1l5 5M280.4 271.1l5 -5M282.9 266.1v5M282.9 269l5 5M282.9 274l5 -5M285.4 269v5M285.4 272.1l5 5M285.4 277.1l5 -5M287.9 272.1v5M288 275.2l5 5M288 280.2l5 -5M290.5 275.2v5M290.5 278.2l5 5M290.5 283.2l5 -5M293 278.2v5M293 281.3l5 5M293 286.3l5 -5M295.5 281.3v5M295.6 284l5 5M295.6 289l5 -5M298.1 284v5M298.1 286.5l5 5M298.1 291.5l5 -5M300.6 286.5v5M300.6 289l5 5M300.6 294l5 -5M303.1 289v5M303.1 291.4l5 5M303.1 296.4l5 -5M305.6 291.4v5M305.7 293.6l5 5M305.7 298.6l5 -5M308.2 293.6v5M308.2 295.4l5 5M308.2 300.4l5 -5M310.7 295.4v5M310.7 297l5 5M310.7 302l5 -5M313.2 297v5M313.3 298.5l5 5M313.3 303.5l5 -5M315.8 298.5v5M315.8 300l5 5M315.8 305l5 -5M318.3 300v5M318.3 301.7l5 5M318.3 306.7l5 -5M320.8 301.7v5" stroke="#1b3526" stroke-width="0.85" fill="none"/>
<path d="M53 310h3.5M53 281.7h3.5M53 253.4h3.5M53 225.1h3.5M53 196.8h3.5M53 168.5h3.5M56.5 310v3.5M220.5 310v3.5M383.5 310v3.5" stroke="#303030" stroke-width="1" fill="none"/>
<g class="yt">
<text x="47.9" y="314.1">0</text>
<text x="47.9" y="285.8">5000</text>
<text x="47.9" y="257.5">10000</text>
<text x="47.9" y="229.2">15000</text>
<text x="47.9" y="200.9">20000</text>
<text x="47.9" y="172.6">25000</text>
</g>
<text class="yl" transform="translate(12.1 239.3) rotate(-90)">dN/dLog (cm<tspan dy="-5.2" font-size="7.2">-3</tspan><tspan dy="5.2">)</tspan></text>
<path d="M261.6 184.4h17.6" stroke="#43548a" stroke-width="1.6"/>
<circle cx="270.6" cy="184.4" r="2.6" fill="#fff" stroke="#242f58" stroke-width="0.9"/>
<path d="M261.6 198.2h17.6" stroke="#1b3526" stroke-width="0.9" opacity="0.7"/>
<path d="M268.1 195.7l5 5M268.1 200.7l5 -5M270.6 195.7v5" stroke="#1b3526" stroke-width="0.95" fill="none"/>
<g class="lg">
<text x="282.8" y="187.8">8:00</text><text x="318.2" y="187.8">clean week</text>
<text x="282.8" y="201.3">8:00</text><text x="318.2" y="201.3">polluted week</text>
</g>
</g>
<g>
<path d="M56.5 330.6V474.1M383.5 330.6V474.1" stroke="#303030" stroke-width="1.1" fill="none"/>
<path d="M56.5 331.15H383.5" stroke="#303030" stroke-width="1" fill="none"/>
<path d="M56.5 473.65H383.5" stroke="#303030" stroke-width="1.05" fill="none"/>
<path d="M57.4 469.7V470.7M60 469.9V470.8M62.6 469.9V470.8M65.2 469.7V470.7M67.8 469.4V470.5M70.3 468.6V469.8M72.9 467.3V468.5M75.5 465.5V466.9M78.1 462.8V464.4M80.7 460.1V461.7M83.3 457.5V459.2M85.9 454.7V456.7M88.4 451.9V454.1M91 449V451.4M93.6 446V448.5M96.2 442.7V445.5M98.8 439.2V442.6M101.3 435.6V439.5M103.9 432.1V436.4M106.5 428.7V433.4M109.1 425.3V430.9M111.7 422.1V428.2M114.2 418.6V425.7M116.8 415V423.2M119.4 411.5V420.7M122 407.9V418.1M124.5 404.4V416.3M127.1 401.6V414.8M129.7 398.8V414M132.2 396.7V413.4M134.8 394.7V413.4M137.4 393.1V413.4M140 391.4V413.6M142.5 390.4V413.7M145.1 389.8V414.3M147.7 389.5V414.6M150.2 389.2V414.9M152.8 388.5V415.9M155.4 389.9V416.2M157.9 387.7V420.4M160.5 389.1V421.7M163.1 390.7V423.4M165.6 391.6V426.1M168.2 393.3V428.5M170.7 394.3V430.6M173.3 396.5V430.3M175.9 397.2V431.6M178.4 398.9V432.6M181 401.8V433.2M183.5 403.8V435.6M186.1 406V440M188.7 408.8V443.6M191.2 410.6V446.1M193.8 412.4V447.6M196.3 414.5V449.4M198.9 417.8V450.4M201.4 420.9V451.8M204 425.3V452.1M206.6 428.5V453.5M209.1 431.6V454.7M211.7 435.4V455M214.2 437.5V456.5M216.8 440.9V456.6M219.3 443.2V457.5M221.9 444.8V458.7M224.4 447.1V458.7M227 448.5V459.4M229.5 449.6V460.3M232.1 451.3V460.4M234.6 452.4V461M237.1 453.5V461.5M239.7 454.6V461.8M242.2 455.6V462.1M244.8 456.5V462.3M247.3 457.2V462.7M249.9 458.2V463.1M252.4 459.2V463.7M255 460.1V464M257.5 460.9V464.3M260 461.7V464.4M262.6 462.2V464.5M265.1 462.8V464.4M267.6 463.3V464.6M270.2 463.6V464.8M272.7 464.1V465.1M275.3 464.4V465.4M277.8 464.9V465.8M280.3 465.3V466.2M282.9 465.8V466.7M285.4 466.4V467.2" stroke="#332d80" stroke-width="0.72" fill="none" opacity="1"/>
<path d="M80.7 468.5V469.6M83.3 467.4V469M85.9 465.8V468.7M88.4 463.8V468.1M91 461.6V466.9M93.6 459.1V465.9M96.2 457V464.5M98.8 454.5V463.3M101.3 452.2V461.5M103.9 449.5V459.9M106.5 446.2V458.5M109.1 443.2V456.6M111.7 439.8V454.5M114.2 435.8V452.3M116.8 431.7V449.5M119.4 428V446.2M122 424.1V443M124.5 419.4V440M127.1 414.4V436.1M129.7 409.5V431.6M132.2 404.4V428M134.8 400.1V424M137.4 395.8V420.2M140 391.6V416.4M142.5 388V412.6M145.1 384.3V409.4M147.7 380.7V406.7M150.2 378.9V404.9M152.8 377.1V404.8M155.4 374.8V406.3M157.9 374V407.7M160.5 373.5V409.7M163.1 373.3V412.2M165.6 373.4V416.2M168.2 375.2V418.7M170.7 376.7V420.8M173.3 378.2V423M175.9 379.4V425.7M178.4 379.5V429.7M181 385.2V428.3M183.5 384.8V433.2M186.1 387.2V433.9M188.7 389V434.8M191.2 392.8V434M193.8 393.3V436.4M196.3 396.6V436.3M198.9 399.8V436.6M201.4 402.2V437.7M204 405.1V438.1M206.6 407V439.4M209.1 409.4V440.1M211.7 411.2V441.3M214.2 413.4V441.5M216.8 415.1V441.5M219.3 416V441.9M221.9 417.1V442.1M224.4 418.3V442.4M227 419.9V442.2M229.5 419.8V443.5M232.1 421.3V443.2M234.6 421.9V444M237.1 422.4V445.1M239.7 423.1V446.2M242.2 423.8V447.5M244.8 425.9V447.5M247.3 425.9V449.6M249.9 427V450.6M252.4 429V450.5M255 430.5V451.2M257.5 432.3V451.7M260 434.1V452.5M262.6 436.2V453.5M265.1 438.4V454.7M267.6 440.1V456.3M270.2 442.1V457.7M272.7 443.8V459.4M275.3 446.6V460.2M277.8 448.8V461.4M280.3 450.4V463.2M282.9 452.5V464.4M285.4 454.3V465.8M287.9 456.4V466.7M290.5 458.4V467.4M293 460.2V468.2M295.5 461.7V469M298.1 463.2V469.5M300.6 464.7V470M303.1 465.9V470.6M305.6 467.1V470.8M308.2 468V471.2M310.7 468.7V471.5M313.2 469.4V471.8M315.8 469.9V472M318.3 470.3V472.2M320.8 470.7V472.4" stroke="#2a4034" stroke-width="0.7" fill="none" opacity="1"/>
<polyline points="57.4,470.2 60,470.4 62.6,470.4 65.2,470.2 67.8,470 70.3,469.2 72.9,467.9 75.5,466.2 78.1,463.6 80.7,460.9 83.3,458.4 85.9,455.7 88.4,453 91,450.2 93.6,447.3 96.2,444.1 98.8,440.9 101.3,437.6 103.9,434.2 106.5,431.1 109.1,428.1 111.7,425.2 114.2,422.1 116.8,419.1 119.4,416.1 122,413 124.5,410.4 127.1,408.2 129.7,406.4 132.2,405.1 134.8,404 137.4,403.2 140,402.5 142.5,402.1 145.1,402 147.7,402 150.2,402 152.8,402.2 155.4,403 157.9,404.1 160.5,405.4 163.1,407.1 165.6,408.9 168.2,410.9 170.7,412.4 173.3,413.4 175.9,414.4 178.4,415.8 181,417.5 183.5,419.7 186.1,423 188.7,426.2 191.2,428.3 193.8,430 196.3,431.9 198.9,434.1 201.4,436.4 204,438.7 206.6,441 209.1,443.2 211.7,445.2 214.2,447 216.8,448.8 219.3,450.3 221.9,451.7 224.4,452.9 227,454 229.5,455 232.1,455.8 234.6,456.7 237.1,457.5 239.7,458.2 242.2,458.8 244.8,459.4 247.3,460 249.9,460.7 252.4,461.4 255,462 257.5,462.6 260,463 262.6,463.4 265.1,463.6 267.6,463.9 270.2,464.2 272.7,464.6 275.3,464.9 277.8,465.3 280.3,465.8 282.9,466.2 285.4,466.8 287.9,467.5 290.5,468.3 293,468.9 295.5,469.6 298.1,470.1 300.6,470.6 303.1,471 305.6,471.3 308.2,471.6 310.7,471.8 313.2,471.9 315.8,472 318.3,472.1 320.8,472.1" fill="none" stroke="#242f58" stroke-width="1.1" stroke-linejoin="round"/>
<g fill="#fff" stroke="#242f58" stroke-width="0.8">
<circle cx="57.4" cy="470.2" r="2.6"/>
<circle cx="60" cy="470.4" r="2.6"/>
<circle cx="62.6" cy="470.4" r="2.6"/>
<circle cx="65.2" cy="470.2" r="2.6"/>
<circle cx="67.8" cy="470" r="2.6"/>
<circle cx="70.3" cy="469.2" r="2.6"/>
<circle cx="72.9" cy="467.9" r="2.6"/>
<circle cx="75.5" cy="466.2" r="2.6"/>
<circle cx="78.1" cy="463.6" r="2.6"/>
<circle cx="80.7" cy="460.9" r="2.6"/>
<circle cx="83.3" cy="458.4" r="2.6"/>
<circle cx="85.9" cy="455.7" r="2.6"/>
<circle cx="88.4" cy="453" r="2.6"/>
<circle cx="91" cy="450.2" r="2.6"/>
<circle cx="93.6" cy="447.3" r="2.6"/>
<circle cx="96.2" cy="444.1" r="2.6"/>
<circle cx="98.8" cy="440.9" r="2.6"/>
<circle cx="101.3" cy="437.6" r="2.6"/>
<circle cx="103.9" cy="434.2" r="2.6"/>
<circle cx="106.5" cy="431.1" r="2.6"/>
<circle cx="109.1" cy="428.1" r="2.6"/>
<circle cx="111.7" cy="425.2" r="2.6"/>
<circle cx="114.2" cy="422.1" r="2.6"/>
<circle cx="116.8" cy="419.1" r="2.6"/>
<circle cx="119.4" cy="416.1" r="2.6"/>
<circle cx="122" cy="413" r="2.6"/>
<circle cx="124.5" cy="410.4" r="2.6"/>
<circle cx="127.1" cy="408.2" r="2.6"/>
<circle cx="129.7" cy="406.4" r="2.6"/>
<circle cx="132.2" cy="405.1" r="2.6"/>
<circle cx="134.8" cy="404" r="2.6"/>
<circle cx="137.4" cy="403.2" r="2.6"/>
<circle cx="140" cy="402.5" r="2.6"/>
<circle cx="142.5" cy="402.1" r="2.6"/>
<circle cx="145.1" cy="402" r="2.6"/>
<circle cx="147.7" cy="402" r="2.6"/>
<circle cx="150.2" cy="402" r="2.6"/>
<circle cx="152.8" cy="402.2" r="2.6"/>
<circle cx="155.4" cy="403" r="2.6"/>
<circle cx="157.9" cy="404.1" r="2.6"/>
<circle cx="160.5" cy="405.4" r="2.6"/>
<circle cx="163.1" cy="407.1" r="2.6"/>
<circle cx="165.6" cy="408.9" r="2.6"/>
<circle cx="168.2" cy="410.9" r="2.6"/>
<circle cx="170.7" cy="412.4" r="2.6"/>
<circle cx="173.3" cy="413.4" r="2.6"/>
<circle cx="175.9" cy="414.4" r="2.6"/>
<circle cx="178.4" cy="415.8" r="2.6"/>
<circle cx="181" cy="417.5" r="2.6"/>
<circle cx="183.5" cy="419.7" r="2.6"/>
<circle cx="186.1" cy="423" r="2.6"/>
<circle cx="188.7" cy="426.2" r="2.6"/>
<circle cx="191.2" cy="428.3" r="2.6"/>
<circle cx="193.8" cy="430" r="2.6"/>
<circle cx="196.3" cy="431.9" r="2.6"/>
<circle cx="198.9" cy="434.1" r="2.6"/>
<circle cx="201.4" cy="436.4" r="2.6"/>
<circle cx="204" cy="438.7" r="2.6"/>
<circle cx="206.6" cy="441" r="2.6"/>
<circle cx="209.1" cy="443.2" r="2.6"/>
<circle cx="211.7" cy="445.2" r="2.6"/>
<circle cx="214.2" cy="447" r="2.6"/>
<circle cx="216.8" cy="448.8" r="2.6"/>
<circle cx="219.3" cy="450.3" r="2.6"/>
<circle cx="221.9" cy="451.7" r="2.6"/>
<circle cx="224.4" cy="452.9" r="2.6"/>
<circle cx="227" cy="454" r="2.6"/>
<circle cx="229.5" cy="455" r="2.6"/>
<circle cx="232.1" cy="455.8" r="2.6"/>
<circle cx="234.6" cy="456.7" r="2.6"/>
<circle cx="237.1" cy="457.5" r="2.6"/>
<circle cx="239.7" cy="458.2" r="2.6"/>
<circle cx="242.2" cy="458.8" r="2.6"/>
<circle cx="244.8" cy="459.4" r="2.6"/>
<circle cx="247.3" cy="460" r="2.6"/>
<circle cx="249.9" cy="460.7" r="2.6"/>
<circle cx="252.4" cy="461.4" r="2.6"/>
<circle cx="255" cy="462" r="2.6"/>
<circle cx="257.5" cy="462.6" r="2.6"/>
<circle cx="260" cy="463" r="2.6"/>
<circle cx="262.6" cy="463.4" r="2.6"/>
<circle cx="265.1" cy="463.6" r="2.6"/>
<circle cx="267.6" cy="463.9" r="2.6"/>
<circle cx="270.2" cy="464.2" r="2.6"/>
<circle cx="272.7" cy="464.6" r="2.6"/>
<circle cx="275.3" cy="464.9" r="2.6"/>
<circle cx="277.8" cy="465.3" r="2.6"/>
<circle cx="280.3" cy="465.8" r="2.6"/>
<circle cx="282.9" cy="466.2" r="2.6"/>
<circle cx="285.4" cy="466.8" r="2.6"/>
<circle cx="287.9" cy="467.5" r="2.6"/>
<circle cx="290.5" cy="468.3" r="2.6"/>
<circle cx="293" cy="468.9" r="2.6"/>
<circle cx="295.5" cy="469.6" r="2.6"/>
<circle cx="298.1" cy="470.1" r="2.6"/>
<circle cx="300.6" cy="470.6" r="2.6"/>
<circle cx="303.1" cy="471" r="2.6"/>
<circle cx="305.6" cy="471.3" r="2.6"/>
<circle cx="308.2" cy="471.6" r="2.6"/>
<circle cx="310.7" cy="471.8" r="2.6"/>
<circle cx="313.2" cy="471.9" r="2.6"/>
<circle cx="315.8" cy="472" r="2.6"/>
<circle cx="318.3" cy="472.1" r="2.6"/>
<circle cx="320.8" cy="472.1" r="2.6"/>
</g>
<polyline points="57.4,472.9 60,472.8 62.6,472.7 65.2,472.5 67.8,472.4 70.3,472 72.9,471.6 75.5,471 78.1,470 80.7,469 83.3,468.2 85.9,467.2 88.4,465.9 91,464.3 93.6,462.5 96.2,460.8 98.8,458.9 101.3,456.9 103.9,454.7 106.5,452.4 109.1,449.9 111.7,447.1 114.2,444 116.8,440.6 119.4,437.1 122,433.5 124.5,429.7 127.1,425.2 129.7,420.6 132.2,416.2 134.8,412 137.4,408 140,404 142.5,400.3 145.1,396.8 147.7,393.7 150.2,391.9 152.8,391 155.4,390.6 157.9,390.9 160.5,391.6 163.1,392.7 165.6,394.8 168.2,397 170.7,398.8 173.3,400.6 175.9,402.6 178.4,404.6 181,406.8 183.5,409 186.1,410.6 188.7,411.9 191.2,413.4 193.8,414.9 196.3,416.5 198.9,418.2 201.4,419.9 204,421.6 206.6,423.2 209.1,424.7 211.7,426.2 214.2,427.5 216.8,428.3 219.3,428.9 221.9,429.6 224.4,430.3 227,431 229.5,431.6 232.1,432.2 234.6,433 237.1,433.8 239.7,434.7 242.2,435.7 244.8,436.7 247.3,437.8 249.9,438.8 252.4,439.8 255,440.8 257.5,442 260,443.3 262.6,444.8 265.1,446.5 267.6,448.2 270.2,449.9 272.7,451.6 275.3,453.4 277.8,455.1 280.3,456.8 282.9,458.5 285.4,460 287.9,461.5 290.5,462.9 293,464.2 295.5,465.3 298.1,466.4 300.6,467.4 303.1,468.3 305.6,469 308.2,469.6 310.7,470.1 313.2,470.6 315.8,471 318.3,471.3 320.8,471.5" fill="none" stroke="#1b3526" stroke-width="1.05" stroke-linejoin="round"/>
<path d="M54.9 470.4l5 5M54.9 475.4l5 -5M57.4 470.4v5M57.5 470.3l5 5M57.5 475.3l5 -5M60 470.3v5M60.1 470.2l5 5M60.1 475.2l5 -5M62.6 470.2v5M62.7 470l5 5M62.7 475l5 -5M65.2 470v5M65.3 469.9l5 5M65.3 474.9l5 -5M67.8 469.9v5M67.8 469.5l5 5M67.8 474.5l5 -5M70.3 469.5v5M70.4 469.1l5 5M70.4 474.1l5 -5M72.9 469.1v5M73 468.5l5 5M73 473.5l5 -5M75.5 468.5v5M75.6 467.5l5 5M75.6 472.5l5 -5M78.1 467.5v5M78.2 466.5l5 5M78.2 471.5l5 -5M80.7 466.5v5M80.8 465.7l5 5M80.8 470.7l5 -5M83.3 465.7v5M83.4 464.7l5 5M83.4 469.7l5 -5M85.9 464.7v5M85.9 463.4l5 5M85.9 468.4l5 -5M88.4 463.4v5M88.5 461.8l5 5M88.5 466.8l5 -5M91 461.8v5M91.1 460l5 5M91.1 465l5 -5M93.6 460v5M93.7 458.3l5 5M93.7 463.3l5 -5M96.2 458.3v5M96.3 456.4l5 5M96.3 461.4l5 -5M98.8 456.4v5M98.8 454.4l5 5M98.8 459.4l5 -5M101.3 454.4v5M101.4 452.2l5 5M101.4 457.2l5 -5M103.9 452.2v5M104 449.9l5 5M104 454.9l5 -5M106.5 449.9v5M106.6 447.4l5 5M106.6 452.4l5 -5M109.1 447.4v5M109.2 444.6l5 5M109.2 449.6l5 -5M111.7 444.6v5M111.7 441.5l5 5M111.7 446.5l5 -5M114.2 441.5v5M114.3 438.1l5 5M114.3 443.1l5 -5M116.8 438.1v5M116.9 434.6l5 5M116.9 439.6l5 -5M119.4 434.6v5M119.5 431l5 5M119.5 436l5 -5M122 431v5M122 427.2l5 5M122 432.2l5 -5M124.5 427.2v5M124.6 422.7l5 5M124.6 427.7l5 -5M127.1 422.7v5M127.2 418.1l5 5M127.2 423.1l5 -5M129.7 418.1v5M129.7 413.7l5 5M129.7 418.7l5 -5M132.2 413.7v5M132.3 409.5l5 5M132.3 414.5l5 -5M134.8 409.5v5M134.9 405.5l5 5M134.9 410.5l5 -5M137.4 405.5v5M137.5 401.5l5 5M137.5 406.5l5 -5M140 401.5v5M140 397.8l5 5M140 402.8l5 -5M142.5 397.8v5M142.6 394.3l5 5M142.6 399.3l5 -5M145.1 394.3v5M145.2 391.2l5 5M145.2 396.2l5 -5M147.7 391.2v5M147.7 389.4l5 5M147.7 394.4l5 -5M150.2 389.4v5M150.3 388.5l5 5M150.3 393.5l5 -5M152.8 388.5v5M152.9 388.1l5 5M152.9 393.1l5 -5M155.4 388.1v5M155.4 388.4l5 5M155.4 393.4l5 -5M157.9 388.4v5M158 389.1l5 5M158 394.1l5 -5M160.5 389.1v5M160.6 390.2l5 5M160.6 395.2l5 -5M163.1 390.2v5M163.1 392.3l5 5M163.1 397.3l5 -5M165.6 392.3v5M165.7 394.5l5 5M165.7 399.5l5 -5M168.2 394.5v5M168.2 396.3l5 5M168.2 401.3l5 -5M170.7 396.3v5M170.8 398.1l5 5M170.8 403.1l5 -5M173.3 398.1v5M173.4 400.1l5 5M173.4 405.1l5 -5M175.9 400.1v5M175.9 402.1l5 5M175.9 407.1l5 -5M178.4 402.1v5M178.5 404.3l5 5M178.5 409.3l5 -5M181 404.3v5M181 406.5l5 5M181 411.5l5 -5M183.5 406.5v5M183.6 408.1l5 5M183.6 413.1l5 -5M186.1 408.1v5M186.2 409.4l5 5M186.2 414.4l5 -5M188.7 409.4v5M188.7 410.9l5 5M188.7 415.9l5 -5M191.2 410.9v5M191.3 412.4l5 5M191.3 417.4l5 -5M193.8 412.4v5M193.8 414l5 5M193.8 419l5 -5M196.3 414v5M196.4 415.7l5 5M196.4 420.7l5 -5M198.9 415.7v5M198.9 417.4l5 5M198.9 422.4l5 -5M201.4 417.4v5M201.5 419.1l5 5M201.5 424.1l5 -5M204 419.1v5M204.1 420.7l5 5M204.1 425.7l5 -5M206.6 420.7v5M206.6 422.2l5 5M206.6 427.2l5 -5M209.1 422.2v5M209.2 423.7l5 5M209.2 428.7l5 -5M211.7 423.7v5M211.7 425l5 5M211.7 430l5 -5M214.2 425v5M214.3 425.8l5 5M214.3 430.8l5 -5M216.8 425.8v5M216.8 426.4l5 5M216.8 431.4l5 -5M219.3 426.4v5M219.4 427.1l5 5M219.4 432.1l5 -5M221.9 427.1v5M221.9 427.8l5 5M221.9 432.8l5 -5M224.4 427.8v5M224.5 428.5l5 5M224.5 433.5l5 -5M227 428.5v5M227 429.1l5 5M227 434.1l5 -5M229.5 429.1v5M229.6 429.7l5 5M229.6 434.7l5 -5M232.1 429.7v5M232.1 430.5l5 5M232.1 435.5l5 -5M234.6 430.5v5M234.6 431.3l5 5M234.6 436.3l5 -5M237.1 431.3v5M237.2 432.2l5 5M237.2 437.2l5 -5M239.7 432.2v5M239.7 433.2l5 5M239.7 438.2l5 -5M242.2 433.2v5M242.3 434.2l5 5M242.3 439.2l5 -5M244.8 434.2v5M244.8 435.3l5 5M244.8 440.3l5 -5M247.3 435.3v5M247.4 436.3l5 5M247.4 441.3l5 -5M249.9 436.3v5M249.9 437.3l5 5M249.9 442.3l5 -5M252.4 437.3v5M252.5 438.3l5 5M252.5 443.3l5 -5M255 438.3v5M255 439.5l5 5M255 444.5l5 -5M257.5 439.5v5M257.5 440.8l5 5M257.5 445.8l5 -5M260 440.8v5M260.1 442.3l5 5M260.1 447.3l5 -5M262.6 442.3v5M262.6 444l5 5M262.6 449l5 -5M265.1 444v5M265.1 445.7l5 5M265.1 450.7l5 -5M267.6 445.7v5M267.7 447.4l5 5M267.7 452.4l5 -5M270.2 447.4v5M270.2 449.1l5 5M270.2 454.1l5 -5M272.7 449.1v5M272.8 450.9l5 5M272.8 455.9l5 -5M275.3 450.9v5M275.3 452.6l5 5M275.3 457.6l5 -5M277.8 452.6v5M277.8 454.3l5 5M277.8 459.3l5 -5M280.3 454.3v5M280.4 456l5 5M280.4 461l5 -5M282.9 456v5M282.9 457.5l5 5M282.9 462.5l5 -5M285.4 457.5v5M285.4 459l5 5M285.4 464l5 -5M287.9 459v5M288 460.4l5 5M288 465.4l5 -5M290.5 460.4v5M290.5 461.7l5 5M290.5 466.7l5 -5M293 461.7v5M293 462.8l5 5M293 467.8l5 -5M295.5 462.8v5M295.6 463.9l5 5M295.6 468.9l5 -5M298.1 463.9v5M298.1 464.9l5 5M298.1 469.9l5 -5M300.6 464.9v5M300.6 465.8l5 5M300.6 470.8l5 -5M303.1 465.8v5M303.1 466.5l5 5M303.1 471.5l5 -5M305.6 466.5v5M305.7 467.1l5 5M305.7 472.1l5 -5M308.2 467.1v5M308.2 467.6l5 5M308.2 472.6l5 -5M310.7 467.6v5M310.7 468.1l5 5M310.7 473.1l5 -5M313.2 468.1v5M313.3 468.5l5 5M313.3 473.5l5 -5M315.8 468.5v5M315.8 468.8l5 5M315.8 473.8l5 -5M318.3 468.8v5M318.3 469l5 5M318.3 474l5 -5M320.8 469v5" stroke="#1b3526" stroke-width="0.85" fill="none"/>
<path d="M53 473.5h3.5M53 445.1h3.5M53 416.7h3.5M53 388.3h3.5M53 359.9h3.5M53 331.5h3.5M56.5 473.5v3.5M220.5 473.5v3.5M383.5 473.5v3.5" stroke="#303030" stroke-width="1" fill="none"/>
<g class="yt">
<text x="47.9" y="477.6">0</text>
<text x="47.9" y="449.2">5000</text>
<text x="47.9" y="420.8">10000</text>
<text x="47.9" y="392.4">15000</text>
<text x="47.9" y="364">20000</text>
<text x="47.9" y="335.6">25000</text>
</g>
<text class="yl" transform="translate(12.1 402.1) rotate(-90)">dN/dLog (cm<tspan dy="-5.2" font-size="7.2">-3</tspan><tspan dy="5.2">)</tspan></text>
<path d="M256.6 348.8h17.6" stroke="#43548a" stroke-width="1.6"/>
<circle cx="265.6" cy="348.8" r="2.6" fill="#fff" stroke="#242f58" stroke-width="0.9"/>
<path d="M256.6 362.8h17.6" stroke="#1b3526" stroke-width="0.9" opacity="0.7"/>
<path d="M263.1 360.3l5 5M263.1 365.3l5 -5M265.6 360.3v5" stroke="#1b3526" stroke-width="0.95" fill="none"/>
<g class="lg">
<text x="277.8" y="352.2">17:00</text><text x="318.1" y="352.2">clean week</text>
<text x="277.8" y="365.9">17:00</text><text x="318.1" y="365.9">polluted week</text>
</g>
</g>
<g class="xt"><text x="57.1" y="493">10</text><text x="221.4" y="493">100</text><text x="384" y="493">1000</text></g>
<text class="xl" x="220.4" y="509.8">DIAMETER (nm)</text>
</svg>
</body>
</html>
